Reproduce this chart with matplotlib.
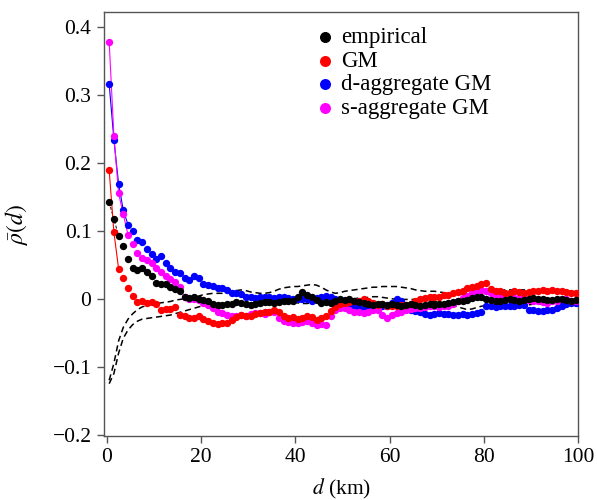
import numpy as np
import matplotlib
matplotlib.use('Agg')
import matplotlib.pyplot as plt

plt.rcParams['font.family'] = ['Liberation Serif', 'DejaVu Serif']
plt.rcParams['mathtext.fontset'] = 'stix'
plt.rcParams['axes.unicode_minus'] = True

# distance bins (km), centres of 1 km bins
d = np.arange(100) + 0.5

empirical = [
    0.142, 0.117, 0.093, 0.077, 0.058, 0.045, 0.043, 0.045, 0.039, 0.033,
    0.023, 0.022, 0.022, 0.017, 0.014, 0.012, 0.003, 0.001, 0.002, -0.001,
    -0.002, -0.004, -0.007, -0.009, -0.009, -0.008, -0.007, -0.005, -0.006, -0.008,
    -0.009, -0.007, -0.006, -0.005, -0.005, -0.006, -0.005, -0.004, -0.004, -0.003,
    0.002, 0.010, 0.006, 0.003, -0.002, -0.006, -0.005, -0.006, -0.004, -0.001,
    -0.002, -0.001, -0.003, -0.005, -0.006, -0.008, -0.009, -0.008, -0.007, -0.009,
    -0.008, -0.009, -0.010, -0.009, -0.008, -0.009, -0.010, -0.009, -0.008, -0.009,
    -0.008, -0.007, -0.006, -0.005, -0.004, -0.003, -0.002, 0.001, 0.003, 0.002,
    0.000, -0.002, -0.004, -0.003, -0.002, -0.001, -0.002, -0.003, -0.002, 0.000,
    0.001, 0.000, -0.001, -0.002, -0.002, -0.001, 0.000, -0.002, -0.003, -0.002]

gm = [
    0.189, 0.098, 0.044, 0.030, 0.016, 0.004, -0.005, -0.004, -0.006, -0.005,
    -0.007, -0.016, -0.015, -0.015, -0.012, -0.024, -0.026, -0.028, -0.029, -0.026,
    -0.030, -0.033, -0.036, -0.037, -0.036, -0.035, -0.031, -0.027, -0.024, -0.026,
    -0.025, -0.022, -0.021, -0.020, -0.019, -0.016, -0.019, -0.026, -0.028, -0.027,
    -0.030, -0.028, -0.026, -0.027, -0.031, -0.028, -0.026, -0.018, -0.012, -0.008,
    -0.006, -0.005, -0.004, -0.004, -0.001, -0.004, -0.006, -0.009, -0.008, -0.010,
    -0.011, -0.010, -0.009, -0.009, -0.007, -0.004, -0.001, 0.001, 0.002, 0.003,
    0.003, 0.005, 0.006, 0.008, 0.010, 0.012, 0.016, 0.018, 0.019, 0.021,
    0.023, 0.014, 0.012, 0.011, 0.009, 0.008, 0.011, 0.010, 0.008, 0.010,
    0.012, 0.011, 0.013, 0.012, 0.013, 0.011, 0.011, 0.010, 0.009, 0.008]

d_agg = [
    0.316, 0.234, 0.169, 0.130, 0.109, 0.099, 0.087, 0.083, 0.073, 0.066,
    0.058, 0.063, 0.052, 0.045, 0.039, 0.038, 0.030, 0.028, 0.034, 0.030,
    0.021, 0.020, 0.019, 0.016, 0.016, 0.013, 0.008, 0.008, 0.007, 0.003,
    0.003, 0.001, 0.002, 0.003, 0.002, 0.001, 0.003, 0.002, 0.001, 0.000,
    -0.001, 0.000, -0.001, -0.004, 0.001, 0.003, 0.004, 0.003, -0.001, -0.003,
    -0.006, -0.009, -0.011, -0.014, -0.016, -0.012, -0.009, -0.009, -0.010, -0.011,
    -0.006, -0.001, -0.003, -0.011, -0.016, -0.018, -0.020, -0.022, -0.024, -0.023,
    -0.021, -0.022, -0.023, -0.024, -0.024, -0.023, -0.024, -0.022, -0.021, -0.019,
    -0.011, -0.011, -0.012, -0.011, -0.011, -0.010, -0.010, -0.009, -0.009, -0.016,
    -0.017, -0.018, -0.018, -0.017, -0.016, -0.013, -0.011, -0.008, -0.006, -0.006]

s_agg = [
    0.378, 0.240, 0.155, 0.124, 0.094, 0.081, 0.067, 0.060, 0.057, 0.052,
    0.045, 0.039, 0.034, 0.029, 0.025, 0.017, 0.003, -0.001, -0.001, -0.002,
    -0.006, -0.009, -0.014, -0.019, -0.021, -0.024, -0.026, -0.025, -0.024, -0.026,
    -0.023, -0.021, -0.021, -0.022, -0.020, -0.019, -0.028, -0.033, -0.034, -0.036,
    -0.036, -0.034, -0.033, -0.036, -0.038, -0.037, -0.038, -0.026, -0.016, -0.014,
    -0.014, -0.016, -0.019, -0.020, -0.021, -0.019, -0.016, -0.017, -0.024, -0.028,
    -0.024, -0.021, -0.019, -0.016, -0.015, -0.014, -0.013, -0.012, -0.011, -0.011,
    -0.012, -0.011, -0.010, -0.007, -0.004, 0.001, 0.004, 0.008, 0.011, 0.013,
    0.011, 0.008, 0.006, 0.004, 0.003, 0.002, 0.001, 0.001, 0.001, -0.002,
    -0.004, -0.004, -0.005, -0.006, -0.004, -0.003, -0.001, -0.001, -0.003, -0.004]

# null envelopes (dashed)
env_upper = [
    -0.120, -0.095, -0.062, -0.042, -0.030, -0.022, -0.016, -0.012, -0.010, -0.008,
    -0.007, -0.006, -0.005, -0.004, -0.002, -0.001, 0.000, 0.001, 0.002, 0.004,
    0.006, 0.007, 0.008, 0.008, 0.008, 0.009, 0.010, 0.012, 0.013, 0.012,
    0.010, 0.009, 0.008, 0.008, 0.009, 0.011, 0.014, 0.016, 0.017, 0.018,
    0.018, 0.019, 0.020, 0.021, 0.020, 0.017, 0.013, 0.010, 0.008, 0.009,
    0.011, 0.012, 0.013, 0.014, 0.015, 0.016, 0.017, 0.017, 0.018, 0.018,
    0.018, 0.018, 0.017, 0.016, 0.015, 0.013, 0.012, 0.011, 0.011, 0.011,
    0.010, 0.009, 0.008, 0.006, 0.006, 0.007, 0.008, 0.009, 0.010, 0.010,
    0.011, 0.011, 0.012, 0.012, 0.013, 0.013, 0.013, 0.013, 0.013, 0.013,
    0.012, 0.012, 0.012, 0.011, 0.011, 0.011, 0.011, 0.011, 0.011, 0.010]

env_lower = [
    -0.125, -0.110, -0.080, -0.058, -0.046, -0.038, -0.033, -0.030, -0.029, -0.028,
    -0.027, -0.026, -0.025, -0.024, -0.022, -0.020, -0.018, -0.016, -0.014, -0.012,
    -0.010, -0.009, -0.008, -0.008, -0.007, -0.007, -0.006, -0.006, -0.006, -0.007,
    -0.007, -0.008, -0.008, -0.007, -0.007, -0.006, -0.006, -0.005, -0.005, -0.006,
    -0.006, -0.007, -0.007, -0.006, -0.005, -0.005, -0.004, -0.004, -0.003, -0.003,
    -0.002, -0.001, 0.000, 0.001, 0.001, 0.002, 0.003, 0.003, 0.002, 0.001,
    0.000, -0.001, -0.001, -0.001, -0.001, -0.001, -0.001, -0.002, -0.003, -0.004,
    -0.005, -0.006, -0.008, -0.010, -0.012, -0.014, -0.016, -0.015, -0.013, -0.011,
    -0.010, -0.009, -0.009, -0.008, -0.008, -0.008, -0.008, -0.009, -0.009, -0.009,
    -0.008, -0.008, -0.008, -0.008, -0.007, -0.007, -0.007, -0.007, -0.007, -0.007]

fig = plt.figure(figsize=(5.97, 5.0), dpi=100)
ax = fig.add_axes([0.1742, 0.128, 0.794, 0.848])

ax.plot(d, env_upper, color='black', ls=(0, (4, 2.5)), lw=1.1, zorder=1)
ax.plot(d, env_lower, color='black', ls=(0, (4, 2.5)), lw=1.1, zorder=1)

# thin lines through the first few bins
ax.plot(d[:3], empirical[:3], color='black', ls=(0, (3, 2)), lw=0.7, zorder=2)
ax.plot(d[:3], gm[:3], color='red', lw=0.8, zorder=2)
ax.plot(d[:5], d_agg[:5], color='blue', lw=0.8, zorder=2)
ax.plot(d[:5], s_agg[:5], color='magenta', lw=0.8, zorder=2)

ms = 28
h_b = ax.scatter(d, d_agg, s=ms, color='blue', lw=0, zorder=3, label='d-aggregate GM')
h_s = ax.scatter(d, s_agg, s=ms, color='magenta', lw=0, zorder=3, label='s-aggregate GM')
h_r = ax.scatter(d, gm, s=ms, color='red', lw=0, zorder=3, label='GM')
h_e = ax.scatter(d, empirical, s=ms, color='black', lw=0, zorder=3, label='empirical')

ax.set_xlim(-0.6, 100)
ax.set_ylim(-0.202, 0.422)
ax.set_xticks([0, 20, 40, 60, 80, 100])
ax.set_yticks([-0.2, -0.1, 0, 0.1, 0.2, 0.3, 0.4])
ax.set_yticklabels(['\u22120.2', '\u22120.1', '0', '0.1', '0.2', '0.3', '0.4'])
ax.tick_params(direction='out', length=5, width=1, color='#555555',
               labelsize=15.5, pad=4)
for sp in ax.spines.values():
    sp.set_color('#555555')
    sp.set_linewidth(1.0)

ax.set_xlabel(r'$d$ (km)', fontsize=15.5, labelpad=7)
ax.set_ylabel(r'$\bar{\rho}(d)$', fontsize=17, labelpad=16)

ax.legend(handles=[h_e, h_r, h_b, h_s], loc='upper left',
          bbox_to_anchor=(0.404, 1.003), frameon=False, fontsize=16.5,
          handletextpad=0.1, labelspacing=0.12, borderpad=0.2,
          handlelength=1.2, markerscale=1.5)

fig.savefig('out.png', dpi=100)
